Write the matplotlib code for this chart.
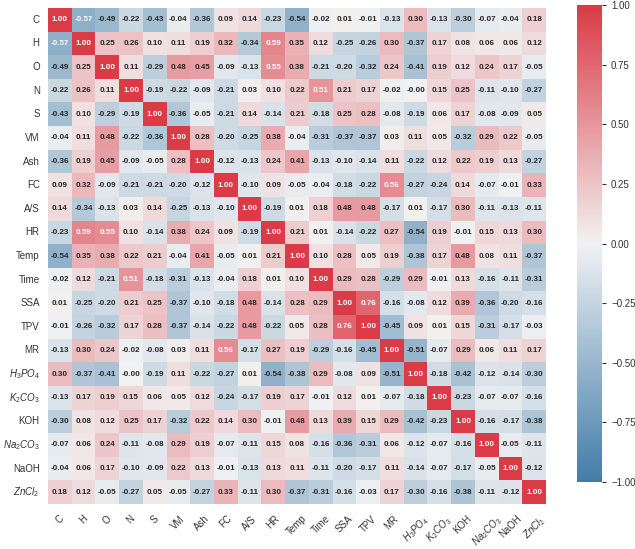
import numpy as np
import matplotlib
matplotlib.use("Agg")
import matplotlib.pyplot as plt
import seaborn as sns

labels = ["C", "H", "O", "N", "S", "VM", "Ash", "FC", "A/S", "HR", "Temp", "Time",
          "SSA", "TPV", "MR", "$H_3PO_4$", "$K_2CO_3$", "KOH", "$Na_2CO_3$", "NaOH", "$ZnCl_2$"]

corr = [
    [1.00, -0.57, -0.49, -0.22, -0.43, -0.04, -0.36, 0.09, 0.14, -0.23, -0.54, -0.02, 0.01, -0.01, -0.13, 0.30, -0.13, -0.30, -0.07, -0.04, 0.18],
    [-0.57, 1.00, 0.25, 0.26, 0.10, 0.11, 0.19, 0.32, -0.34, 0.59, 0.35, 0.12, -0.25, -0.26, 0.30, -0.37, 0.17, 0.08, 0.06, 0.06, 0.12],
    [-0.49, 0.25, 1.00, 0.11, -0.29, 0.48, 0.45, -0.09, -0.13, 0.55, 0.38, -0.21, -0.20, -0.32, 0.24, -0.41, 0.19, 0.12, 0.24, 0.17, -0.05],
    [-0.22, 0.26, 0.11, 1.00, -0.19, -0.22, -0.09, -0.21, 0.03, 0.10, 0.22, 0.51, 0.21, 0.17, -0.02, -0.001, 0.15, 0.25, -0.11, -0.10, -0.27],
    [-0.43, 0.10, -0.29, -0.19, 1.00, -0.36, -0.05, -0.21, 0.14, -0.14, 0.21, -0.18, 0.25, 0.28, -0.08, -0.19, 0.06, 0.17, -0.08, -0.09, 0.05],
    [-0.04, 0.11, 0.48, -0.22, -0.36, 1.00, 0.28, -0.20, -0.25, 0.38, -0.04, -0.31, -0.37, -0.37, 0.03, 0.11, 0.05, -0.32, 0.29, 0.22, -0.05],
    [-0.36, 0.19, 0.45, -0.09, -0.05, 0.28, 1.00, -0.12, -0.13, 0.24, 0.41, -0.13, -0.10, -0.14, 0.11, -0.22, 0.12, 0.22, 0.19, 0.13, -0.27],
    [0.09, 0.32, -0.09, -0.21, -0.21, -0.20, -0.12, 1.00, -0.10, 0.09, -0.05, -0.04, -0.18, -0.22, 0.56, -0.27, -0.24, 0.14, -0.07, -0.01, 0.33],
    [0.14, -0.34, -0.13, 0.03, 0.14, -0.25, -0.13, -0.10, 1.00, -0.19, 0.01, 0.18, 0.48, 0.48, -0.17, 0.01, -0.17, 0.30, -0.11, -0.13, -0.11],
    [-0.23, 0.59, 0.55, 0.10, -0.14, 0.38, 0.24, 0.09, -0.19, 1.00, 0.21, 0.01, -0.14, -0.22, 0.27, -0.54, 0.19, -0.01, 0.15, 0.13, 0.30],
    [-0.54, 0.35, 0.38, 0.22, 0.21, -0.04, 0.41, -0.05, 0.01, 0.21, 1.00, 0.10, 0.28, 0.05, 0.19, -0.38, 0.17, 0.48, 0.08, 0.11, -0.37],
    [-0.02, 0.12, -0.21, 0.51, -0.18, -0.31, -0.13, -0.04, 0.18, 0.01, 0.10, 1.00, 0.29, 0.28, -0.29, 0.29, -0.01, 0.13, -0.16, -0.11, -0.31],
    [0.01, -0.25, -0.20, 0.21, 0.25, -0.37, -0.10, -0.18, 0.48, -0.14, 0.28, 0.29, 1.00, 0.76, -0.16, -0.08, 0.12, 0.39, -0.36, -0.20, -0.16],
    [-0.01, -0.26, -0.32, 0.17, 0.28, -0.37, -0.14, -0.22, 0.48, -0.22, 0.05, 0.28, 0.76, 1.00, -0.45, 0.09, 0.01, 0.15, -0.31, -0.17, -0.03],
    [-0.13, 0.30, 0.24, -0.02, -0.08, 0.03, 0.11, 0.56, -0.17, 0.27, 0.19, -0.29, -0.16, -0.45, 1.00, -0.51, -0.07, 0.29, 0.06, 0.11, 0.17],
    [0.30, -0.37, -0.41, -0.001, -0.19, 0.11, -0.22, -0.27, 0.01, -0.54, -0.38, 0.29, -0.08, 0.09, -0.51, 1.00, -0.18, -0.42, -0.12, -0.14, -0.30],
    [-0.13, 0.17, 0.19, 0.15, 0.06, 0.05, 0.12, -0.24, -0.17, 0.19, 0.17, -0.01, 0.12, 0.01, -0.07, -0.18, 1.00, -0.23, -0.07, -0.07, -0.16],
    [-0.30, 0.08, 0.12, 0.25, 0.17, -0.32, 0.22, 0.14, 0.30, -0.01, 0.48, 0.13, 0.39, 0.15, 0.29, -0.42, -0.23, 1.00, -0.16, -0.17, -0.38],
    [-0.07, 0.06, 0.24, -0.11, -0.08, 0.29, 0.19, -0.07, -0.11, 0.15, 0.08, -0.16, -0.36, -0.31, 0.06, -0.12, -0.07, -0.16, 1.00, -0.05, -0.11],
    [-0.04, 0.06, 0.17, -0.10, -0.09, 0.22, 0.13, -0.01, -0.13, 0.13, 0.11, -0.11, -0.20, -0.17, 0.11, -0.14, -0.07, -0.17, -0.05, 1.00, -0.12],
    [0.18, 0.12, -0.05, -0.27, 0.05, -0.05, -0.27, 0.33, -0.11, 0.30, -0.37, -0.31, -0.16, -0.03, 0.17, -0.30, -0.16, -0.38, -0.11, -0.12, 1.00],
]

sns.set_theme(style="white")
plt.rcParams['font.family'] = ['Liberation Sans', 'DejaVu Sans']
plt.rcParams['mathtext.fontset'] = 'custom'
plt.rcParams['mathtext.it'] = 'Liberation Sans:italic'
plt.rcParams['mathtext.rm'] = 'Liberation Sans'

fig = plt.figure(figsize=(6.35, 5.49), dpi=100)
W, H = 635, 549
ax = fig.add_axes([48 / W, (H - 504) / H, 498 / W, 496 / H])
cax = fig.add_axes([577 / W, (H - 482) / H, 25 / W, 477 / H])

cmap = sns.diverging_palette(240, 10, as_cmap=True)
sns.heatmap(np.array(corr), ax=ax, cbar_ax=cax, cmap=cmap, vmin=-1, vmax=1,
            annot=True, fmt=".2f", annot_kws={"fontsize": 5.8, "fontweight": "bold"},
            xticklabels=labels, yticklabels=labels)

ax.tick_params(axis='y', length=0, labelsize=7, colors='#333333', pad=6)
ax.tick_params(axis='x', length=0, labelsize=7, colors='#333333', pad=7)
plt.setp(ax.get_xticklabels(), rotation=45, ha='center')
plt.setp(ax.get_yticklabels(), rotation=0)

cax.tick_params(labelsize=7, colors='#333333', length=3, width=0.8)
cax.set_yticks([-1, -0.75, -0.5, -0.25, 0, 0.25, 0.5, 0.75, 1])
cax.set_yticklabels(["−1.00", "−0.75", "−0.50", "−0.25", "0.00", "0.25", "0.50", "0.75", "1.00"])
for s in cax.spines.values():
    s.set_visible(False)

fig.savefig("out.png", dpi=100)
